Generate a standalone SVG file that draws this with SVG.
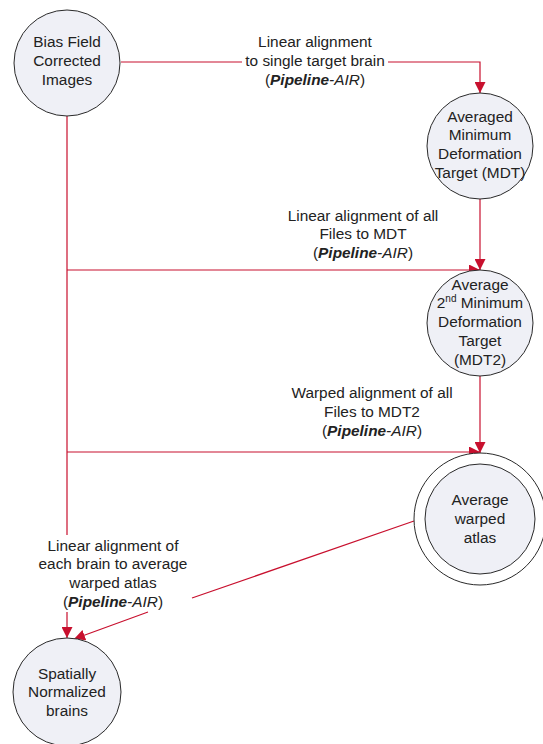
<svg xmlns="http://www.w3.org/2000/svg" width="543" height="744" viewBox="0 0 543 744">
<style>
.node{fill:#eff0f6;stroke:#2a2a2a;stroke-width:1}
.ring{fill:#ffffff;stroke:#2a2a2a;stroke-width:1}
.conn{fill:none;stroke:#c8102e;stroke-width:1.2}
text{font-family:"Liberation Sans",Arial,sans-serif;font-size:15.4px;fill:#222222;text-anchor:middle}
.bi{font-weight:bold;font-style:italic}
.it{font-style:italic}
</style>
<defs>
<marker id="arr" markerUnits="userSpaceOnUse" markerWidth="11" markerHeight="11" refX="11" refY="5.5" orient="auto" viewBox="0 0 11 11">
<path d="M0,0 L11,5.5 L0,11 z" fill="#c8102e"/>
</marker>
</defs>
<rect width="543" height="744" fill="#ffffff"/>
<g id="connectors">
<path class="conn" d="M121,62 H242 M388,62 H480 V93" marker-end="url(#arr)"/>
<path class="conn" d="M480,199 V270" marker-end="url(#arr)"/>
<path class="conn" d="M67,270 H480" marker-end="url(#arr)"/>
<path class="conn" d="M480,376 V453" marker-end="url(#arr)"/>
<path class="conn" d="M67,452 H480" marker-end="url(#arr)"/>
<path class="conn" d="M67,116 V535 M67,612 V638" marker-end="url(#arr)"/>
<path class="conn" d="M414,521 L192,598 M148,612 L74,639" marker-end="url(#arr)"/>
<text x="315" y="47">Linear alignment</text>
<text x="315" y="66">to single target brain</text>
<text x="315" y="85">(<tspan class="bi">Pipeline</tspan><tspan class="it">-AIR</tspan>)</text>
<text x="363" y="221">Linear alignment of all</text>
<text x="363" y="239">Files to MDT</text>
<text x="363" y="258">(<tspan class="bi">Pipeline</tspan><tspan class="it">-AIR</tspan>)</text>
<text x="372" y="398">Warped alignment of all</text>
<text x="372" y="417">Files to MDT2</text>
<text x="372" y="436">(<tspan class="bi">Pipeline</tspan><tspan class="it">-AIR</tspan>)</text>
<text x="113" y="551">Linear alignment of</text>
<text x="113" y="569">each brain to average</text>
<text x="113" y="588">warped atlas</text>
<text x="113" y="607">(<tspan class="bi">Pipeline</tspan><tspan class="it">-AIR</tspan>)</text>
</g>
<g id="bias-field">
<circle class="node" cx="67" cy="63" r="53"/>
<text x="67" y="47">Bias Field</text>
<text x="67" y="66">Corrected</text>
<text x="67" y="85">Images</text>
</g>
<g id="mdt">
<circle class="node" cx="480" cy="146" r="53"/>
<text x="480" y="122">Averaged</text>
<text x="480" y="140">Minimum</text>
<text x="480" y="159">Deformation</text>
<text x="480" y="178">Target (MDT)</text>
</g>
<g id="mdt2">
<circle class="node" cx="480" cy="323" r="53"/>
<text x="480" y="290">Average</text>
<text x="480" y="308">2<tspan font-size="10" dy="-6">nd</tspan><tspan dy="6"> Minimum</tspan></text>
<text x="480" y="327">Deformation</text>
<text x="480" y="346">Target</text>
<text x="480" y="365">(MDT2)</text>
</g>
<g id="atlas">
<circle class="ring" cx="480" cy="519" r="66"/>
<circle class="node" cx="480" cy="519" r="55"/>
<text x="480" y="505">Average</text>
<text x="480" y="524">warped</text>
<text x="480" y="543">atlas</text>
</g>
<g id="normalized">
<circle class="node" cx="67" cy="692" r="54"/>
<text x="67" y="679">Spatially</text>
<text x="67" y="697">Normalized</text>
<text x="67" y="716">brains</text>
</g>
</svg>
